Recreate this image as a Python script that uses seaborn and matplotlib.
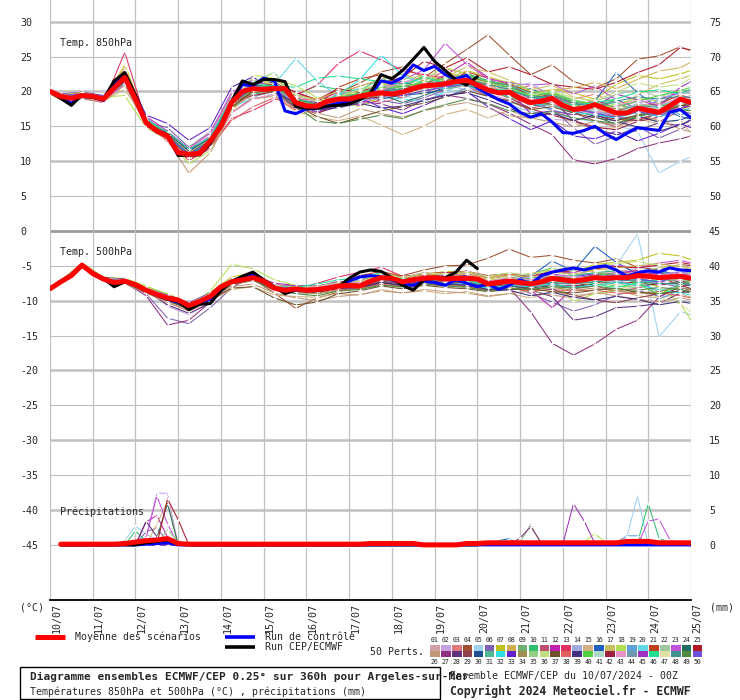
import numpy as np
import pandas as pd
import matplotlib
matplotlib.use('Agg')
import matplotlib.pyplot as plt
import matplotlib.transforms as mtransforms
from matplotlib.patches import Rectangle
import seaborn as sns

sns.set_style('white')
plt.rcParams['font.family'] = ['DejaVu Sans Mono']
plt.rcParams['axes.unicode_minus'] = False

# ── Time axes ──────────────────────────────────────────
day_labels = ['10/07', '11/07', '12/07', '13/07', '14/07', '15/07', '16/07', '17/07',
              '18/07', '19/07', '20/07', '21/07', '22/07', '23/07', '24/07', '25/07']
day_hours = list(range(0, 361, 24))
hours_6h = list(range(0, 361, 6))          # mean / control
cep_hours = list(range(0, 241, 6))         # deterministic run stops at 240h
precip_hours = list(range(6, 361, 6))      # accumulations start at +6h
member_hours = [0, 6, 18, 30, 42, 54, 66, 78, 90, 102, 114, 126, 138, 150, 162, 174,
                186, 198, 210, 222, 234, 246, 258, 270, 282, 294, 306, 318, 330, 342, 354, 360]

# ── Member colours (01..50) ────────────────────────────
member_colors = [
    '#d4a0a8', '#c8a0e0', '#e07880', '#a05030', '#a0d0f0', '#8060b0', '#c0c020', '#d0b050',
    '#70b070', '#30c070', '#c05070', '#c020b0', '#e03060', '#a0a8e0', '#d0b080', '#2060c0',
    '#c8c060', '#b0e050', '#60a0d8', '#60d8e8', '#c04020', '#a0c8a0', '#c050d8', '#207060',
    '#b01828',
    '#c09878', '#903080', '#603080', '#904050', '#205090', '#50b890', '#30e0e0', '#6020d0',
    '#a09050', '#90d080', '#c0e080', '#705028', '#e06060', '#403080', '#50d040', '#b0d8c8',
    '#a02040', '#e890c8', '#7098b0', '#a030c0', '#20e090', '#e0e0a0', '#409090', '#508840',
    '#7050e0']

member_ids = ['01', '02', '03', '04', '05', '06', '07', '09', '10', '11', '12', '13', '15',
              '16', '18', '19', '20', '21', '23', '24', '25', '27', '28', '30', '33', '35',
              '38', '42', '44', '45', '47',
              '08', '14', '17', '22', '26', '29', '31', '32', '34', '36', '37', '39', '40',
              '41', '43', '46', '48', '49', '50']

# ── Temp. 850hPa, members (12h) ────────────────────────
t850_members = [
    [20.2, 19.5, 19.8, 18.7, 22.5, 15.2, 13.9, 10.6, 12.5, 17.9, 21.0, 20.8, 19.3, 18.5, 19.5, 20.8, 21.5, 20.3, 21.0, 22.4, 21.8, 20.3, 20.5, 19.0, 19.8, 18.2, 17.0, 16.2, 17.9, 18.5, 19.3, 19.0],
    [19.8, 19.0, 19.2, 19.1, 21.7, 15.8, 13.4, 11.3, 13.5, 19.2, 20.6, 19.9, 17.6, 17.0, 18.1, 18.8, 19.4, 21.2, 22.5, 21.0, 20.2, 19.6, 18.8, 17.2, 16.0, 15.8, 16.5, 17.8, 18.5, 17.1, 19.6, 20.0],
    [20.3, 19.6, 19.1, 18.5, 23.4, 16.1, 14.0, 10.8, 12.2, 17.4, 19.7, 20.2, 18.9, 18.8, 20.1, 19.0, 18.4, 19.2, 20.8, 23.2, 22.6, 21.0, 20.2, 20.8, 19.5, 18.9, 19.6, 18.3, 17.0, 16.4, 18.0, 17.5],
    [20.1, 19.2, 19.6, 19.0, 22.8, 15.0, 13.2, 10.4, 12.7, 18.8, 20.9, 21.3, 19.2, 17.6, 19.8, 21.2, 22.8, 23.5, 22.0, 24.0, 26.0, 28.1, 25.2, 22.4, 23.8, 21.4, 20.5, 21.8, 24.6, 25.1, 26.4, 25.8],
    [19.9, 19.4, 19.5, 18.8, 21.3, 15.3, 13.8, 11.5, 13.4, 18.0, 20.0, 19.5, 17.9, 18.3, 19.0, 18.5, 20.2, 19.5, 18.6, 19.8, 20.4, 19.4, 18.0, 17.1, 16.8, 16.2, 15.6, 15.1, 14.3, 8.3, 10.0, 10.6],
    [20.0, 19.2, 19.3, 19.2, 21.9, 15.6, 14.8, 12.0, 14.2, 19.5, 21.8, 20.5, 17.3, 17.8, 18.4, 19.6, 18.7, 18.2, 19.1, 20.2, 22.0, 20.8, 21.5, 18.3, 17.5, 14.8, 12.4, 13.6, 15.0, 13.3, 14.6, 15.2],
    [20.3, 19.6, 19.8, 18.6, 23.8, 16.0, 13.5, 10.2, 12.1, 17.2, 20.5, 21.8, 19.6, 18.9, 18.0, 19.4, 21.0, 20.8, 22.3, 21.6, 23.0, 22.1, 21.2, 19.6, 20.3, 19.8, 18.9, 21.0, 22.3, 21.8, 22.5, 23.0],
    [19.7, 19.1, 18.9, 18.8, 21.2, 15.4, 13.1, 10.9, 12.6, 18.1, 20.2, 21.4, 18.0, 17.2, 18.5, 19.9, 20.6, 19.9, 21.6, 20.5, 21.0, 19.8, 20.4, 19.2, 18.1, 17.0, 17.8, 16.5, 17.2, 18.3, 17.8, 18.2],
    [20.0, 19.3, 19.7, 19.3, 22.1, 15.9, 13.7, 11.2, 13.0, 18.6, 19.6, 20.0, 19.5, 20.8, 20.3, 20.1, 21.9, 20.5, 22.2, 21.4, 22.6, 21.5, 20.9, 20.3, 19.4, 18.5, 18.0, 18.8, 17.6, 18.0, 20.2, 19.7],
    [20.4, 19.5, 19.0, 18.4, 22.9, 15.1, 13.3, 10.3, 12.0, 16.9, 19.2, 20.1, 18.6, 17.5, 19.2, 18.0, 18.8, 20.4, 19.6, 21.7, 20.8, 19.2, 18.7, 17.6, 18.2, 16.9, 15.8, 14.9, 16.4, 15.6, 17.3, 16.8],
    [19.8, 19.2, 19.5, 19.0, 21.5, 16.4, 14.3, 11.6, 13.6, 19.0, 21.3, 20.9, 19.8, 18.6, 19.9, 18.9, 19.3, 21.1, 20.9, 22.3, 24.2, 22.0, 19.8, 18.9, 19.5, 17.9, 18.7, 17.7, 16.8, 18.9, 19.8, 20.3],
    [20.1, 19.4, 19.8, 18.3, 25.6, 15.7, 12.8, 10.1, 11.8, 16.1, 17.3, 18.8, 19.5, 20.9, 24.0, 25.8, 24.5, 23.0, 22.4, 21.9, 20.6, 21.4, 20.0, 19.3, 18.0, 17.5, 17.9, 16.3, 15.9, 16.9, 17.6, 18.1],
    [19.6, 18.9, 19.1, 18.6, 20.3, 15.6, 14.0, 11.9, 14.1, 19.4, 18.9, 19.3, 17.1, 16.3, 15.8, 16.5, 15.2, 13.8, 15.0, 16.7, 17.4, 16.2, 17.3, 16.0, 17.0, 15.5, 14.6, 14.8, 16.1, 15.3, 15.9, 14.0],
    [20.0, 19.5, 19.3, 18.9, 22.2, 15.2, 13.6, 11.1, 12.8, 18.3, 20.3, 20.6, 18.2, 17.3, 19.4, 20.3, 20.0, 21.5, 20.0, 22.0, 21.3, 20.4, 19.1, 20.4, 19.0, 17.2, 18.6, 22.7, 19.8, 17.6, 16.4, 16.0],
    [19.9, 19.3, 19.6, 19.2, 19.4, 14.8, 13.1, 9.6, 11.5, 17.8, 22.3, 21.9, 20.8, 19.1, 18.5, 17.8, 19.2, 20.1, 21.8, 23.4, 22.5, 20.9, 21.5, 20.0, 19.7, 18.1, 17.5, 18.2, 19.0, 18.6, 17.8, 17.2],
    [20.2, 19.0, 19.4, 18.9, 22.4, 16.2, 13.9, 11.0, 13.2, 18.5, 21.1, 20.2, 18.7, 18.0, 17.6, 18.4, 19.7, 19.0, 20.3, 19.1, 20.5, 21.3, 20.1, 18.4, 17.3, 16.7, 17.7, 16.9, 17.1, 18.8, 16.6, 17.0],
    [19.9, 19.2, 19.3, 18.8, 21.8, 15.4, 13.5, 11.4, 13.3, 17.8, 19.0, 21.0, 24.7, 21.5, 19.3, 20.5, 19.1, 18.9, 18.5, 20.0, 21.2, 19.4, 18.2, 19.1, 18.6, 17.7, 17.0, 16.6, 18.0, 17.9, 18.9, 19.3],
    [20.2, 19.4, 19.7, 19.0, 22.6, 15.8, 13.4, 10.7, 12.4, 18.2, 20.7, 20.1, 18.1, 17.9, 20.6, 21.8, 22.4, 21.0, 20.1, 21.0, 22.8, 21.9, 21.0, 19.9, 19.2, 18.4, 16.8, 17.3, 17.8, 18.2, 19.5, 19.0],
    [19.7, 19.1, 19.5, 18.7, 21.0, 15.3, 14.3, 11.8, 14.0, 19.9, 21.5, 19.7, 18.5, 18.2, 19.1, 17.9, 20.5, 21.6, 23.1, 26.9, 23.9, 21.8, 21.2, 20.9, 21.1, 19.6, 20.8, 18.8, 17.5, 16.8, 19.1, 18.7],
    [20.0, 19.4, 19.3, 19.1, 22.0, 15.6, 13.3, 10.9, 12.9, 18.4, 20.0, 20.7, 19.0, 17.4, 18.7, 19.2, 19.6, 18.4, 19.4, 20.6, 20.9, 19.6, 19.9, 17.9, 18.4, 17.3, 16.4, 15.3, 16.3, 17.8, 18.6, 18.9],
    [20.1, 19.5, 19.4, 18.6, 23.0, 15.5, 13.1, 10.5, 12.3, 17.6, 20.1, 21.2, 19.9, 18.8, 20.4, 19.8, 21.2, 22.0, 24.3, 23.4, 24.8, 22.8, 23.5, 22.4, 21.0, 20.6, 20.3, 21.3, 22.7, 23.8, 26.3, 25.9],
    [19.8, 19.0, 19.2, 18.9, 21.4, 15.0, 13.8, 11.3, 13.1, 18.7, 20.8, 19.8, 17.7, 16.9, 17.8, 18.6, 18.2, 17.3, 18.8, 19.5, 19.0, 18.2, 16.9, 15.3, 13.8, 10.2, 9.6, 10.4, 11.8, 12.6, 13.2, 13.6],
    [20.2, 19.3, 19.6, 18.8, 22.3, 15.9, 13.9, 10.9, 12.9, 18.2, 20.0, 21.5, 18.8, 18.4, 18.2, 19.6, 20.1, 20.8, 20.7, 21.2, 22.3, 20.4, 19.4, 18.1, 18.8, 15.8, 14.6, 13.8, 14.4, 15.5, 15.1, 16.0],
    [19.9, 19.2, 19.0, 19.1, 21.6, 15.4, 13.6, 11.2, 12.9, 18.9, 20.9, 20.6, 18.3, 17.7, 19.0, 19.3, 18.9, 19.5, 19.7, 20.3, 21.0, 20.0, 19.6, 18.8, 19.1, 17.4, 16.9, 16.0, 16.5, 15.6, 15.9, 16.5],
    [20.0, 19.6, 19.9, 19.4, 22.8, 16.6, 15.4, 13.0, 14.8, 20.6, 22.1, 20.0, 18.0, 17.1, 18.3, 19.1, 17.7, 16.8, 18.0, 19.3, 20.0, 17.8, 16.1, 14.5, 15.8, 13.6, 13.2, 14.3, 12.9, 14.0, 15.4, 14.8],
    [20.1, 19.5, 19.4, 18.9, 22.2, 15.6, 13.5, 11.0, 12.6, 18.0, 21.4, 22.7, 18.9, 18.1, 19.6, 20.2, 20.9, 20.4, 19.8, 21.5, 22.0, 21.0, 20.7, 19.7, 19.9, 18.8, 18.2, 17.4, 18.1, 17.9, 18.7, 18.3],
    [20.3, 19.2, 19.5, 18.9, 22.9, 15.4, 13.0, 10.6, 12.1, 15.8, 17.8, 19.1, 17.4, 17.6, 18.8, 19.5, 20.0, 19.1, 21.0, 21.3, 21.7, 20.2, 19.3, 18.0, 19.5, 18.0, 17.4, 16.3, 17.6, 17.0, 19.1, 18.7],
    [19.8, 19.1, 19.3, 18.7, 21.8, 15.3, 13.4, 10.8, 12.8, 18.5, 19.4, 20.0, 17.8, 16.8, 18.3, 18.9, 19.2, 19.8, 20.4, 20.9, 21.6, 20.8, 19.1, 17.5, 16.6, 15.8, 14.9, 14.5, 15.7, 16.3, 17.5, 18.0],
    [20.0, 19.3, 19.4, 18.8, 22.0, 15.7, 13.8, 11.1, 13.0, 18.6, 20.5, 20.4, 18.5, 17.9, 19.1, 19.4, 20.3, 20.0, 20.5, 21.1, 21.9, 20.9, 20.6, 19.5, 18.9, 18.4, 17.6, 17.1, 17.9, 17.7, 18.0, 18.6],
    [19.9, 19.4, 19.6, 19.0, 22.1, 15.5, 13.7, 11.0, 12.9, 18.4, 20.6, 20.3, 18.4, 17.8, 18.6, 19.0, 19.5, 20.2, 20.0, 20.7, 21.2, 20.5, 20.1, 16.8, 17.2, 16.6, 17.8, 19.6, 18.8, 17.9, 20.6, 21.4],
    [20.0, 19.2, 19.5, 18.9, 22.1, 15.4, 13.5, 10.9, 12.9, 18.3, 20.3, 20.5, 18.6, 18.0, 19.0, 19.4, 19.8, 19.7, 20.2, 21.0, 21.5, 20.7, 20.1, 18.6, 18.9, 17.7, 17.2, 17.0, 17.5, 17.4, 18.7, 18.2],
    [20.1, 19.4, 19.6, 18.8, 22.7, 15.5, 13.3, 10.7, 12.6, 18.1, 20.3, 21.0, 19.4, 18.9, 20.0, 20.7, 21.8, 22.5, 21.5, 22.9, 21.8, 21.0, 19.5, 18.9, 20.2, 20.5, 21.3, 20.4, 21.7, 22.9, 23.4, 24.2],
    [19.8, 19.2, 19.3, 19.0, 21.6, 15.8, 14.1, 11.6, 13.6, 19.1, 21.2, 20.6, 18.3, 17.5, 17.9, 18.7, 19.0, 19.9, 20.8, 21.4, 20.7, 19.9, 20.6, 21.2, 19.3, 17.8, 17.1, 16.7, 18.3, 19.1, 19.6, 19.9],
    [20.2, 19.5, 19.9, 19.1, 23.1, 15.9, 13.7, 10.8, 12.7, 18.3, 20.1, 20.4, 18.7, 18.1, 19.3, 20.0, 20.3, 21.0, 20.6, 22.0, 23.5, 22.8, 21.6, 20.2, 20.9, 19.2, 18.5, 17.6, 19.5, 21.0, 21.8, 22.3],
    [19.9, 19.3, 19.4, 18.8, 21.9, 15.4, 13.6, 11.0, 12.9, 18.5, 20.4, 20.2, 18.6, 17.8, 18.8, 19.5, 20.4, 20.9, 21.1, 20.3, 21.0, 20.4, 19.7, 18.7, 18.4, 17.9, 18.6, 19.5, 20.3, 19.2, 20.1, 19.6],
    [19.6, 18.8, 18.9, 18.5, 20.9, 15.1, 13.0, 8.3, 11.2, 17.0, 19.0, 19.4, 17.6, 16.9, 16.2, 17.5, 16.8, 16.3, 17.2, 17.9, 18.4, 17.6, 16.5, 16.2, 15.6, 14.9, 15.7, 15.2, 16.8, 15.8, 14.6, 14.2],
    [20.1, 19.4, 19.5, 18.9, 22.3, 15.6, 13.5, 10.8, 12.7, 18.2, 20.4, 20.6, 18.7, 17.9, 18.7, 19.3, 20.1, 19.6, 20.6, 21.5, 22.1, 21.3, 20.9, 19.4, 19.1, 17.8, 16.6, 16.0, 15.8, 16.9, 17.9, 18.4],
    [20.0, 19.3, 19.5, 19.0, 22.0, 15.7, 13.8, 11.3, 13.2, 18.7, 20.7, 20.4, 18.5, 17.6, 18.9, 19.8, 20.6, 20.2, 20.9, 21.8, 22.4, 21.6, 20.8, 19.8, 19.5, 18.6, 18.0, 18.4, 17.2, 17.6, 18.2, 18.8],
    [19.9, 19.2, 19.4, 18.9, 21.8, 15.5, 13.6, 11.1, 13.0, 18.5, 20.6, 20.9, 18.9, 18.2, 19.5, 21.7, 25.2, 22.3, 21.1, 20.4, 21.6, 20.0, 19.2, 18.2, 18.0, 17.0, 16.7, 16.2, 17.0, 16.4, 17.2, 17.6],
    [20.1, 19.3, 19.6, 18.8, 22.4, 15.3, 13.2, 10.4, 12.3, 17.7, 19.8, 20.0, 18.2, 17.4, 18.6, 19.0, 19.4, 20.3, 21.2, 20.9, 21.5, 20.2, 19.0, 18.4, 18.1, 17.3, 17.9, 17.5, 16.9, 17.3, 18.2, 17.7],
    [20.0, 19.5, 19.6, 19.2, 22.6, 15.8, 13.9, 11.2, 13.1, 18.6, 20.9, 21.2, 19.6, 18.6, 19.2, 20.3, 21.0, 21.7, 22.3, 21.4, 22.0, 21.2, 20.3, 19.5, 20.0, 19.1, 18.7, 19.9, 21.2, 20.6, 21.0, 21.9],
    [20.2, 19.4, 19.3, 18.7, 22.1, 15.2, 13.4, 10.6, 12.4, 17.8, 20.0, 20.3, 18.0, 16.4, 15.4, 16.3, 17.2, 17.8, 18.3, 19.2, 20.1, 19.3, 18.6, 17.4, 17.8, 16.9, 16.2, 15.8, 16.6, 17.2, 17.9, 18.1],
    [19.8, 19.1, 19.2, 18.9, 21.5, 15.6, 14.0, 11.5, 13.3, 18.8, 20.6, 20.0, 18.1, 17.3, 17.7, 18.3, 17.6, 17.9, 18.7, 19.4, 19.8, 18.8, 17.6, 16.3, 16.9, 15.8, 16.6, 15.7, 14.9, 14.3, 15.2, 15.8],
    [20.0, 19.4, 19.5, 19.0, 22.2, 15.7, 13.8, 11.0, 13.0, 18.5, 20.4, 20.7, 18.8, 18.0, 19.2, 19.7, 20.5, 20.7, 21.3, 21.9, 22.3, 21.4, 20.6, 19.3, 19.8, 18.6, 18.2, 17.8, 18.6, 19.4, 20.1, 20.6],
    [20.0, 19.3, 19.4, 18.9, 22.0, 15.5, 13.6, 11.0, 12.9, 18.4, 20.3, 20.4, 18.4, 17.8, 18.8, 19.2, 19.8, 19.9, 20.4, 21.0, 21.4, 20.6, 20.0, 18.8, 18.6, 17.9, 17.4, 17.0, 17.8, 17.5, 18.4, 18.6],
    [20.2, 19.5, 19.6, 18.8, 22.8, 15.3, 13.2, 10.5, 12.2, 16.9, 18.9, 19.6, 18.1, 17.6, 18.4, 19.4, 20.2, 21.3, 21.9, 22.8, 21.2, 20.7, 19.8, 19.0, 18.3, 17.3, 16.8, 17.9, 18.8, 18.1, 19.0, 19.4],
    [19.9, 19.2, 19.4, 19.1, 21.7, 15.9, 14.2, 11.7, 13.4, 18.9, 21.0, 20.8, 20.6, 21.9, 22.2, 21.8, 21.4, 21.0, 22.0, 21.2, 20.9, 20.4, 20.1, 19.3, 18.9, 18.0, 18.4, 18.9, 19.9, 20.2, 19.7, 20.3],
    [20.1, 19.4, 19.5, 18.8, 22.2, 15.4, 13.5, 10.9, 12.8, 18.3, 20.4, 20.8, 18.9, 18.2, 19.0, 19.6, 20.0, 20.4, 20.6, 21.3, 21.7, 21.0, 20.3, 19.1, 19.4, 18.3, 17.8, 18.6, 19.2, 18.9, 19.3, 19.1],
    [19.9, 19.3, 19.3, 18.9, 21.9, 15.6, 13.7, 11.1, 13.0, 18.6, 20.2, 19.9, 17.9, 15.7, 15.4, 16.0, 16.6, 16.1, 17.3, 18.1, 18.9, 18.3, 17.2, 16.8, 17.1, 16.2, 15.8, 15.4, 16.5, 16.9, 17.4, 17.2],
    [20.0, 19.4, 19.6, 19.0, 22.1, 15.5, 13.6, 11.0, 12.9, 18.4, 20.5, 20.3, 18.3, 17.6, 18.5, 19.1, 19.6, 19.4, 20.1, 20.6, 21.1, 20.3, 19.5, 18.3, 18.7, 17.5, 16.9, 16.3, 17.1, 16.6, 17.6, 18.0],
]

# ── Temp. 500hPa, members (12h) ────────────────────────
t500_members = [
    [-8.2, -7.2, -4.7, -7.0, -7.4, -8.8, -10.2, -11.4, -9.7, -7.8, -7.0, -8.5, -8.8, -9.0, -8.2, -7.4, -6.2, -7.0, -6.5, -7.2, -6.3, -7.0, -7.9, -8.3, -6.5, -7.8, -6.0, -5.8, -5.5, -6.3, -5.9, -6.4],
    [-8.4, -7.4, -5.1, -6.7, -7.0, -8.2, -10.8, -12.0, -10.1, -7.0, -6.2, -7.6, -8.0, -7.9, -7.3, -8.4, -7.0, -6.6, -6.0, -6.8, -7.5, -8.2, -6.9, -7.1, -6.3, -6.6, -5.4, -5.0, -5.8, -6.8, -7.2, -7.5],
    [-8.3, -7.2, -4.8, -6.8, -7.1, -8.4, -9.3, -10.5, -9.0, -7.1, -6.8, -8.0, -8.7, -8.2, -8.5, -7.7, -6.8, -7.6, -7.1, -6.4, -6.6, -7.3, -8.0, -7.4, -7.7, -7.0, -6.5, -6.9, -7.1, -6.0, -6.6, -7.0],
    [-8.2, -7.3, -4.9, -7.1, -7.3, -8.6, -9.4, -10.8, -9.6, -7.6, -6.9, -8.9, -11.1, -9.6, -8.8, -7.5, -6.9, -6.4, -5.6, -5.0, -4.9, -3.9, -2.6, -3.8, -3.5, -4.2, -4.6, -4.0, -5.2, -5.6, -4.8, -5.0],
    [-8.3, -7.3, -5.0, -6.9, -7.2, -8.6, -9.8, -10.6, -9.3, -7.5, -6.5, -7.9, -8.0, -8.6, -8.1, -7.8, -7.2, -7.5, -7.0, -7.4, -6.9, -8.1, -7.6, -7.0, -8.3, -7.5, -6.8, -5.0, -0.4, -15.2, -11.6, -12.0],
    [-8.3, -7.4, -5.0, -6.9, -7.5, -9.0, -12.5, -13.3, -11.0, -8.2, -6.4, -7.7, -8.5, -8.4, -7.5, -7.8, -7.0, -7.7, -6.8, -6.5, -7.3, -8.0, -7.6, -9.0, -10.2, -11.5, -10.6, -9.2, -8.5, -9.4, -8.0, -7.6],
    [-8.2, -7.1, -4.6, -6.6, -6.9, -8.0, -9.0, -10.4, -8.8, -6.6, -6.0, -7.9, -8.1, -8.0, -7.4, -7.0, -6.0, -6.6, -6.3, -5.8, -5.9, -6.6, -6.2, -6.8, -5.5, -5.9, -4.8, -4.5, -4.2, -3.2, -3.6, -4.1],
    [-8.4, -7.4, -5.0, -7.0, -7.3, -8.7, -9.9, -11.0, -9.6, -7.4, -6.9, -8.3, -8.6, -8.9, -8.3, -8.0, -7.3, -7.9, -7.5, -7.2, -7.4, -7.9, -8.3, -8.0, -7.1, -7.6, -7.3, -7.9, -8.1, -6.5, -7.4, -7.2],
    [-8.3, -7.2, -4.9, -6.8, -7.1, -8.3, -9.5, -10.6, -9.2, -7.1, -6.5, -8.0, -8.2, -8.1, -7.6, -7.7, -6.4, -7.2, -6.6, -6.8, -6.4, -7.3, -6.8, -6.2, -5.3, -6.4, -6.0, -5.7, -6.3, -5.9, -6.2, -6.0],
    [-8.2, -7.2, -4.8, -6.9, -7.2, -8.6, -9.7, -10.9, -9.5, -7.5, -6.9, -8.4, -8.9, -8.7, -8.0, -8.3, -7.5, -7.2, -7.8, -7.5, -7.9, -8.4, -8.1, -8.8, -7.6, -8.3, -7.9, -8.6, -8.2, -7.4, -8.1, -8.4],
    [-8.3, -7.3, -4.7, -6.8, -7.0, -8.3, -9.8, -11.2, -9.8, -7.0, -6.4, -7.5, -7.8, -8.0, -7.2, -7.5, -6.3, -6.9, -6.1, -6.6, -5.7, -6.8, -6.4, -8.5, -11.0, -8.2, -6.9, -6.2, -6.7, -7.5, -6.3, -6.6],
    [-8.3, -7.3, -4.9, -6.8, -7.1, -8.5, -9.4, -10.5, -9.3, -7.7, -7.1, -8.2, -8.4, -7.5, -6.6, -5.9, -5.2, -6.5, -7.4, -7.0, -6.3, -7.4, -7.0, -6.8, -7.3, -6.8, -6.5, -6.9, -6.1, -6.8, -6.4, -6.9],
    [-8.4, -7.5, -5.1, -7.1, -7.5, -8.9, -10.0, -11.3, -10.0, -8.4, -8.0, -9.2, -9.4, -9.5, -9.0, -9.2, -8.4, -8.9, -8.6, -9.0, -8.7, -9.3, -9.0, -9.6, -8.7, -9.2, -9.1, -8.4, -9.3, -9.6, -9.0, -9.5],
    [-8.3, -7.3, -4.9, -6.9, -7.2, -8.4, -9.6, -10.7, -9.4, -7.3, -6.7, -8.2, -8.3, -8.4, -7.9, -7.7, -6.6, -7.3, -6.8, -6.9, -6.7, -7.5, -7.0, -6.5, -4.3, -5.8, -2.2, -4.5, -6.2, -5.4, -6.8, -7.1],
    [-8.2, -7.2, -4.8, -6.7, -6.8, -7.9, -9.1, -10.9, -8.6, -4.8, -5.4, -7.0, -7.8, -8.2, -7.7, -7.3, -6.5, -7.0, -6.4, -6.7, -6.6, -7.1, -6.6, -7.8, -7.0, -10.1, -9.0, -8.6, -7.3, -8.0, -10.4, -12.8],
    [-8.3, -7.3, -4.9, -7.0, -7.4, -8.7, -9.6, -10.9, -9.6, -7.6, -6.8, -8.3, -8.5, -8.6, -8.1, -8.0, -7.0, -7.4, -6.9, -7.0, -7.2, -7.9, -7.5, -7.9, -7.4, -6.9, -7.2, -6.4, -5.8, -9.8, -8.4, -8.0],
    [-8.3, -7.3, -4.9, -6.9, -7.2, -8.5, -9.7, -10.8, -9.4, -7.2, -6.6, -8.1, -8.3, -8.6, -8.2, -7.9, -6.8, -7.4, -6.6, -7.1, -7.0, -7.7, -7.3, -7.7, -6.9, -7.5, -7.0, -7.2, -6.8, -7.6, -7.8, -8.3],
    [-8.2, -7.2, -4.8, -6.8, -7.0, -8.4, -9.5, -10.7, -9.3, -7.3, -6.7, -8.0, -8.2, -8.1, -7.6, -6.4, -5.8, -6.5, -6.3, -6.7, -6.6, -7.4, -7.2, -7.4, -7.5, -7.2, -6.9, -6.1, -5.8, -6.7, -7.7, -8.3],
    [-8.3, -7.2, -4.8, -6.8, -7.1, -8.3, -9.4, -10.6, -9.3, -7.2, -6.5, -8.0, -8.1, -7.9, -7.6, -7.1, -6.3, -6.7, -6.0, -6.4, -6.1, -6.8, -6.3, -6.6, -5.8, -6.0, -5.2, -4.9, -5.3, -4.6, -4.2, -4.6],
    [-8.4, -7.4, -5.0, -7.0, -7.3, -8.6, -9.8, -11.0, -9.7, -7.6, -7.0, -8.4, -8.6, -8.7, -8.2, -8.1, -7.4, -7.8, -7.4, -7.5, -7.7, -8.3, -7.9, -8.2, -7.8, -8.0, -7.6, -7.3, -7.8, -7.5, -7.6, -7.9],
    [-8.3, -7.3, -4.9, -6.9, -7.1, -8.4, -9.5, -10.7, -9.3, -7.2, -6.6, -8.0, -8.2, -8.1, -7.5, -7.3, -6.2, -6.9, -6.1, -6.0, -5.8, -6.4, -6.1, -6.4, -5.9, -5.8, -5.4, -5.1, -5.3, -4.9, -4.5, -4.8],
    [-8.3, -7.4, -5.0, -7.0, -7.4, -9.3, -13.5, -12.8, -10.2, -7.6, -6.8, -8.3, -8.6, -8.8, -8.3, -8.2, -7.4, -7.9, -7.4, -7.3, -7.8, -8.6, -8.2, -11.6, -16.1, -17.8, -16.2, -14.1, -12.8, -9.5, -8.0, -7.6],
    [-8.3, -7.3, -4.8, -6.9, -7.2, -8.6, -10.6, -11.8, -10.4, -7.3, -6.7, -8.2, -8.4, -8.3, -7.9, -7.8, -6.9, -7.5, -7.0, -7.1, -7.0, -7.9, -7.6, -8.5, -9.4, -12.8, -12.3, -11.0, -10.8, -10.4, -8.9, -8.6],
    [-8.3, -7.3, -4.9, -6.9, -7.2, -8.5, -9.6, -10.8, -9.5, -7.4, -6.7, -8.1, -8.3, -8.4, -8.0, -7.9, -7.0, -7.5, -7.1, -7.0, -7.1, -7.7, -7.4, -7.6, -7.5, -7.3, -7.1, -6.9, -7.0, -7.2, -6.9, -7.3],
    [-8.2, -7.2, -4.8, -6.7, -6.9, -8.2, -9.2, -10.3, -8.9, -6.9, -6.3, -7.8, -7.9, -7.9, -7.4, -7.5, -6.5, -7.0, -6.6, -6.4, -6.4, -7.2, -6.9, -7.2, -6.2, -6.6, -6.1, -6.4, -6.0, -6.2, -5.9, -6.1],
    [-8.3, -7.3, -4.9, -6.9, -7.2, -8.4, -9.6, -10.7, -9.4, -7.3, -6.8, -8.2, -8.4, -8.5, -8.0, -7.8, -6.9, -7.4, -6.9, -7.3, -7.1, -7.9, -7.5, -7.8, -7.2, -7.4, -7.0, -6.7, -6.4, -6.9, -7.0, -7.2],
    [-8.4, -7.4, -5.0, -7.0, -7.3, -8.6, -9.8, -11.0, -9.6, -7.5, -6.9, -8.3, -8.6, -8.8, -8.4, -8.3, -7.6, -8.0, -7.6, -7.8, -7.9, -8.5, -8.2, -8.6, -8.4, -8.6, -8.5, -8.9, -9.0, -8.8, -9.3, -9.6],
    [-8.3, -7.3, -4.9, -6.9, -7.2, -8.5, -9.7, -10.9, -9.5, -7.4, -6.8, -8.2, -8.4, -8.6, -8.1, -8.0, -7.1, -7.6, -7.1, -7.3, -7.4, -8.1, -7.8, -8.0, -7.7, -7.9, -7.4, -7.6, -7.3, -7.8, -7.2, -7.5],
    [-8.3, -7.3, -4.9, -6.9, -7.2, -8.5, -9.6, -10.8, -9.4, -7.3, -6.7, -8.1, -8.2, -8.3, -7.8, -7.8, -6.8, -7.4, -6.8, -7.0, -6.8, -7.6, -7.2, -7.4, -6.6, -7.0, -6.7, -6.5, -7.4, -8.7, -7.7, -7.4],
    [-8.2, -7.2, -4.8, -6.8, -7.1, -8.4, -9.4, -10.6, -9.2, -7.2, -6.6, -8.0, -8.1, -8.2, -7.7, -7.6, -6.6, -7.1, -6.4, -6.7, -6.5, -7.3, -7.0, -7.3, -6.4, -6.8, -6.3, -6.0, -5.7, -6.2, -6.1, -6.4],
    [-8.3, -7.3, -4.9, -6.9, -7.2, -8.5, -9.7, -10.9, -9.5, -7.4, -6.8, -8.2, -8.4, -8.5, -8.0, -7.9, -7.1, -7.4, -7.0, -7.1, -7.0, -7.8, -7.4, -7.8, -7.3, -7.6, -7.5, -7.7, -8.8, -9.5, -10.5, -11.6],
    [-8.3, -7.3, -4.9, -6.9, -7.1, -8.4, -9.5, -10.7, -9.3, -7.2, -6.6, -8.0, -8.2, -8.2, -7.7, -7.4, -6.5, -7.0, -6.5, -6.6, -6.2, -6.9, -6.3, -6.7, -5.9, -6.2, -5.6, -5.3, -5.0, -4.7, -5.2, -5.5],
    [-8.3, -7.3, -4.9, -6.9, -7.3, -8.6, -9.7, -10.9, -9.6, -7.5, -6.8, -8.2, -8.4, -8.5, -8.0, -7.9, -7.0, -7.5, -7.2, -7.3, -7.1, -7.8, -7.1, -6.6, -7.0, -6.5, -6.9, -7.4, -6.8, -6.3, -5.8, -6.2],
    [-8.2, -7.2, -4.8, -6.8, -7.0, -8.3, -9.4, -10.6, -9.2, -7.1, -6.5, -7.9, -8.1, -8.0, -7.5, -7.2, -6.4, -6.8, -6.2, -6.3, -6.0, -6.7, -6.5, -6.1, -5.6, -5.2, -5.9, -6.4, -6.0, -5.3, -4.9, -5.4],
    [-8.3, -7.3, -4.9, -6.9, -7.2, -8.5, -9.6, -10.8, -9.4, -7.3, -6.7, -8.1, -8.3, -8.4, -8.0, -7.8, -6.9, -7.3, -6.9, -7.2, -7.3, -7.9, -7.6, -7.4, -7.8, -7.2, -7.0, -7.5, -7.9, -7.2, -6.9, -7.3],
    [-8.4, -7.5, -5.2, -7.2, -7.6, -8.9, -10.3, -11.5, -10.1, -8.0, -7.6, -8.9, -9.6, -10.0, -9.4, -9.1, -8.6, -8.9, -8.4, -8.7, -8.9, -9.4, -9.0, -8.6, -9.2, -9.6, -8.8, -9.3, -9.8, -10.2, -9.6, -9.9],
    [-8.3, -7.3, -4.9, -7.0, -7.3, -8.6, -9.8, -10.9, -9.6, -7.5, -6.9, -8.3, -8.5, -8.6, -8.1, -8.0, -7.2, -7.6, -7.2, -7.3, -7.5, -8.0, -7.7, -8.1, -8.4, -9.2, -9.9, -10.3, -9.6, -9.0, -8.6, -8.4],
    [-8.3, -7.3, -4.9, -6.9, -7.2, -8.4, -9.6, -10.7, -9.4, -7.3, -6.7, -8.1, -8.2, -8.3, -7.8, -7.7, -6.8, -7.3, -6.8, -7.0, -6.9, -7.5, -7.1, -7.3, -6.7, -6.4, -6.0, -6.5, -7.0, -6.6, -6.8, -7.1],
    [-8.3, -7.3, -4.9, -6.9, -7.2, -8.5, -9.6, -10.8, -9.4, -7.3, -6.7, -8.1, -8.2, -8.3, -7.7, -6.9, -5.9, -7.0, -7.4, -7.6, -7.6, -8.2, -7.8, -8.0, -7.6, -8.1, -7.8, -7.4, -7.7, -8.4, -8.9, -9.2],
    [-8.4, -7.4, -5.0, -7.0, -7.3, -8.6, -9.8, -11.0, -9.7, -7.7, -7.1, -8.5, -8.8, -9.0, -8.6, -8.3, -7.7, -8.1, -7.7, -7.8, -8.0, -8.6, -8.3, -8.4, -8.1, -8.5, -8.2, -8.6, -8.9, -8.7, -8.1, -8.5],
    [-8.2, -7.2, -4.8, -6.8, -7.0, -8.2, -9.3, -10.4, -9.0, -6.9, -6.3, -7.8, -8.0, -7.9, -7.4, -7.3, -6.2, -6.7, -6.0, -6.2, -5.8, -6.5, -6.0, -6.4, -5.4, -5.8, -5.0, -4.7, -4.4, -4.9, -5.6, -6.0],
    [-8.4, -7.4, -5.1, -7.1, -7.4, -8.8, -10.0, -11.2, -9.9, -8.2, -8.0, -9.6, -10.6, -10.2, -9.0, -8.6, -7.9, -8.3, -7.8, -8.1, -8.3, -8.7, -8.4, -8.3, -8.7, -8.9, -8.5, -8.2, -8.8, -9.0, -8.6, -8.9],
    [-8.3, -7.4, -5.0, -7.0, -7.3, -8.7, -9.9, -11.1, -9.7, -7.6, -7.0, -8.4, -8.6, -8.7, -8.2, -8.1, -7.4, -7.8, -7.4, -7.6, -7.8, -8.4, -8.5, -9.3, -8.8, -9.5, -9.9, -9.4, -9.8, -10.6, -10.1, -10.4],
    [-8.3, -7.3, -4.9, -6.9, -7.2, -8.4, -9.5, -10.7, -9.3, -7.2, -6.6, -8.0, -8.1, -8.2, -7.7, -7.5, -6.6, -7.1, -6.6, -6.8, -6.7, -7.4, -7.0, -6.8, -6.5, -6.9, -6.4, -6.1, -7.6, -9.1, -7.8, -7.2],
    [-8.3, -7.3, -4.9, -6.9, -7.2, -8.5, -9.6, -10.8, -9.4, -7.3, -6.7, -8.1, -8.3, -8.4, -7.9, -7.8, -6.9, -7.4, -6.9, -7.1, -7.0, -7.7, -7.3, -7.5, -7.2, -7.1, -7.3, -6.8, -6.6, -7.0, -6.7, -6.9],
    [-8.2, -7.2, -4.8, -6.8, -7.1, -8.4, -9.5, -10.6, -9.3, -7.2, -6.6, -8.0, -8.1, -8.0, -7.6, -7.4, -6.6, -7.0, -6.5, -6.7, -6.8, -7.2, -6.7, -7.0, -6.3, -6.6, -6.8, -6.2, -5.9, -6.4, -6.0, -6.3],
    [-8.3, -7.3, -4.9, -6.9, -7.2, -8.5, -9.6, -10.8, -9.4, -7.3, -6.7, -8.0, -8.1, -7.6, -7.0, -6.8, -6.3, -6.9, -6.7, -7.0, -7.2, -7.6, -7.3, -7.2, -7.0, -6.9, -7.6, -8.1, -7.5, -7.0, -6.5, -6.8],
    [-8.3, -7.3, -4.9, -6.9, -7.2, -8.5, -9.7, -10.9, -9.5, -7.4, -6.8, -8.2, -8.4, -8.5, -8.0, -7.9, -7.0, -7.5, -7.0, -7.2, -7.3, -7.9, -7.5, -7.7, -7.4, -7.6, -7.3, -7.0, -7.2, -7.6, -7.4, -7.7],
    [-8.4, -7.4, -5.0, -7.0, -7.3, -8.7, -9.8, -11.0, -9.7, -7.6, -7.0, -8.5, -9.0, -9.3, -8.6, -8.4, -7.8, -8.0, -7.6, -7.9, -8.1, -8.6, -8.2, -8.4, -8.0, -8.2, -7.9, -8.3, -8.5, -8.1, -8.4, -8.7],
    [-8.3, -7.3, -4.9, -6.9, -7.2, -8.4, -9.5, -10.8, -9.4, -7.3, -6.7, -8.1, -8.2, -8.3, -7.8, -7.7, -6.8, -7.3, -6.8, -7.0, -6.9, -7.5, -7.2, -7.4, -7.1, -7.3, -6.6, -6.3, -6.9, -7.3, -6.4, -6.7],
]

# ── Mean / control / CEP (6h) ──────────────────────────
t850_mean = [20.0, 19.3, 19.0, 19.4, 19.3, 18.9, 20.5, 22.0, 18.9, 15.5, 14.3, 13.6, 11.2, 11.0, 11.1, 12.9,
             15.0, 18.4, 20.0, 20.4, 20.3, 20.4, 20.4, 18.4, 17.9, 17.9, 18.6, 18.9, 18.9, 19.3, 19.6, 19.8,
             19.6, 19.9, 20.4, 20.8, 20.9, 21.1, 21.4, 21.6, 20.9, 20.2, 19.8, 19.9, 19.0, 18.4, 18.6, 19.0,
             18.0, 17.4, 17.6, 18.1, 17.5, 16.9, 16.9, 17.6, 17.3, 17.0, 17.9, 18.9, 18.4]
t850_ctrl = [20.0, 19.1, 18.3, 19.4, 19.2, 18.7, 21.3, 22.4, 19.2, 15.6, 14.2, 13.6, 10.9, 11.0, 11.2, 12.8,
             15.2, 18.6, 21.0, 20.8, 21.9, 21.5, 17.2, 16.8, 17.5, 17.6, 17.9, 18.3, 18.6, 19.2, 19.6, 21.5,
             21.2, 22.0, 23.8, 23.0, 23.6, 22.4, 21.8, 22.3, 20.5, 19.6, 18.8, 18.2, 17.0, 16.3, 16.8, 15.6,
             14.1, 14.0, 14.4, 15.0, 13.9, 13.1, 14.0, 14.8, 14.6, 14.4, 17.0, 17.4, 16.2]
t850_cep = [20.0, 19.0, 18.0, 19.5, 19.3, 18.8, 21.5, 22.7, 19.5, 15.7, 14.3, 13.8, 10.8, 10.9, 10.9, 12.5,
            15.0, 18.5, 21.5, 21.0, 21.7, 21.7, 21.4, 17.8, 17.6, 17.6, 17.9, 18.0, 18.2, 18.8, 19.8, 22.4,
            21.8, 23.0, 24.6, 26.3, 24.3, 23.0, 21.6, 20.9, 22.1]

t500_mean = [-8.3, -7.3, -6.4, -4.9, -6.1, -6.9, -7.4, -7.2, -7.7, -8.5, -9.1, -9.6, -9.9, -10.7, -10.1, -9.4,
             -8.0, -7.3, -7.0, -6.7, -7.2, -8.2, -8.5, -8.3, -8.5, -8.4, -8.2, -7.9, -7.8, -7.9, -7.2, -6.7,
             -6.8, -7.3, -7.0, -6.8, -6.7, -6.9, -6.8, -6.8, -6.9, -7.6, -7.4, -7.2, -7.4, -7.6, -7.3, -6.8,
             -7.0, -7.2, -7.0, -6.7, -6.8, -6.7, -6.7, -6.4, -6.5, -6.7, -6.6, -6.5, -6.8]
t500_ctrl = [-8.3, -7.3, -6.4, -4.9, -6.1, -6.9, -7.7, -7.3, -7.7, -8.6, -9.2, -9.8, -10.2, -11.0, -10.3, -9.8,
             -8.3, -7.2, -6.7, -6.2, -7.1, -8.1, -8.8, -8.5, -8.6, -8.5, -8.2, -7.9, -7.2, -6.6, -6.4, -6.6,
             -7.0, -7.6, -7.8, -7.2, -7.4, -7.8, -7.0, -7.5, -8.0, -7.6, -8.4, -7.8, -7.0, -7.6, -6.4, -5.9,
             -5.6, -5.3, -5.6, -5.2, -5.0, -5.6, -6.5, -6.0, -5.7, -5.9, -5.3, -5.6, -5.7]
t500_cep = [-8.3, -7.3, -6.4, -4.9, -6.2, -6.8, -8.0, -7.3, -7.6, -8.5, -9.1, -9.8, -10.1, -11.3, -10.5, -10.4,
            -8.5, -7.3, -6.5, -5.9, -7.0, -8.0, -9.0, -8.4, -8.5, -8.6, -8.3, -8.0, -6.8, -5.9, -5.6, -5.8,
            -6.7, -7.8, -8.5, -7.0, -6.8, -6.7, -5.9, -4.2, -5.4]

# ── Precipitations (mm / 6h) ───────────────────────────
precip_mean = [0.1, 0.1, 0.1, 0.1, 0.1, 0.1, 0.2, 0.4, 0.6, 0.7,
               0.9, 0.2, 0.1, 0.1, 0.1, 0.1, 0.1, 0.1, 0.1, 0.1,
               0.1, 0.1, 0.1, 0.1, 0.1, 0.1, 0.1, 0.1, 0.1, 0.2,
               0.2, 0.2, 0.2, 0.2, 0.0, 0.0, 0.0, 0.0, 0.2, 0.2,
               0.3, 0.3, 0.3, 0.3, 0.3, 0.3, 0.3, 0.3, 0.3, 0.3,
               0.3, 0.3, 0.3, 0.5, 0.5, 0.5, 0.3, 0.3, 0.3, 0.3]
precip_ctrl = [0, 0, 0, 0, 0, 0, 0, 0, 0.1, 0.2,
               0.3, 0, 0, 0, 0, 0, 0, 0, 0, 0,
               0, 0, 0, 0, 0, 0, 0, 0, 0, 0,
               0, 0, 0, 0, 0, 0, 0, 0, 0, 0,
               0, 0, 0, 0, 0, 0, 0, 0, 0, 0,
               0, 0, 0, 0, 0, 0, 0, 0, 0, 0]
precip_cep = [0, 0, 0, 0, 0, 0, 0, 0, 0.3, 0.5,
              0.7, 0.1, 0, 0, 0, 0, 0, 0, 0, 0,
              0, 0, 0, 0, 0, 0, 0, 0, 0, 0,
              0, 0, 0, 0, 0, 0, 0, 0, 0, 0]

precip_ids = ['02', '05', '06', '09', '10', '12', '15', '16', '18', '19', '23', '24', '25', '27', '28', '35', '45']
precip_members = [
    [0, 0, 0, 0, 0, 0, 0, 0, 1.2, 7.4,  7.4, 0, 0, 0, 0, 0, 0, 0, 0, 0,  0, 0, 0, 0, 0, 0, 0, 0, 0, 0,  0, 0, 0, 0, 0, 0, 0, 0, 0, 0,  0, 0, 0, 0, 0, 0, 0, 0, 0, 0,  0, 0, 0, 0, 0, 0, 0, 0, 0, 0],
    [0, 0, 0, 0, 0, 0, 0.6, 2.7, 1.5, 0.8,  0, 0, 0, 0, 0, 0, 0, 0, 0, 0,  0, 0, 0, 0, 0, 0, 0, 0, 0, 0,  0, 0, 0, 0, 0, 0, 0, 0, 0, 0,  0, 0, 0, 0, 0, 0, 0, 0, 0, 0,  0, 0, 0, 1.2, 7.0, 0, 0, 0, 0, 0],
    [0, 0, 0, 0, 0, 0, 0, 0, 1.9, 2.4,  0.5, 0, 0, 0, 0, 0, 0, 0, 0, 0,  0, 0, 0, 0, 0, 0, 0, 0, 0, 0,  0, 0, 0, 0, 0, 0, 0, 0, 0, 0,  0, 0, 0, 0, 0, 0, 0, 0, 0, 0,  0, 0, 0, 0, 0, 0, 0, 0, 0, 0],
    [0, 0, 0, 0, 0, 0, 0, 0, 0, 0,  0, 0, 0, 0, 0, 0, 0, 0, 0, 0,  0, 0, 0, 0, 0, 0, 0, 0, 0, 0,  0, 0, 0, 0, 0, 0, 0, 0, 0, 0,  0, 0, 0, 0.4, 2.9, 0, 0, 0, 0, 0,  0, 0, 0, 0, 0, 0, 0, 0, 0, 0],
    [0, 0, 0, 0, 0, 0, 0, 2.0, 0.5, 0,  0, 0, 0, 0, 0, 0, 0, 0, 0, 0,  0, 0, 0, 0, 0, 0, 0, 0, 0, 0,  0, 0, 0, 0, 0, 0, 0, 0, 0, 0,  0, 0, 0, 0, 0, 0, 0, 0, 0, 0,  0, 0, 0, 0, 0.3, 5.9, 1.0, 0.3, 0, 0],
    [0, 0, 0, 0, 0, 0, 0, 0, 3.3, 4.2,  1.1, 0, 0, 0, 0, 0, 0, 0, 0, 0,  0, 0, 0, 0, 0, 0, 0, 0, 0, 0,  0, 0, 0, 0, 0, 0, 0, 0, 0, 0,  0, 0, 0, 0, 0, 0, 0, 0, 0, 0,  0, 0, 0, 0, 0, 0, 0, 0, 0, 0],
    [0, 0, 0, 0, 0, 0, 0, 0, 0, 3.0,  6.2, 0, 0, 0, 0, 0, 0, 0, 0, 0,  0, 0, 0, 0, 0, 0, 0, 0, 0, 0,  0, 0, 0, 0, 0, 0, 0, 0, 0, 0,  0, 0, 0, 0, 0, 0, 0, 0, 0, 0,  0, 0, 0, 0, 0, 0, 0, 0, 0, 0],
    [0, 0, 0, 0, 0, 0, 0, 0, 0, 0,  0, 0, 0, 0, 0, 0, 0, 0, 0, 0,  0, 0, 0, 0, 0, 0, 0, 0, 0, 0,  0, 0, 0, 0, 0, 0, 0, 0, 0, 0,  0, 0.6, 0.9, 0, 0, 0, 0, 0, 0, 0,  0, 0, 0, 0, 0, 0, 0, 0, 0, 0],
    [0, 0, 0, 0, 0, 0, 0, 0, 0, 0,  0, 0, 0, 0, 0, 0, 0, 0, 0, 0,  0, 0, 0, 0, 0, 0, 0, 0, 0, 0,  0, 0, 0, 0, 0, 0, 0, 0, 0, 0,  0, 0, 0, 0, 0, 0, 0, 0, 0, 0.4,  1.6, 0.4, 0, 0, 0, 0, 0, 0, 0, 0],
    [0, 0, 0, 0, 0, 0, 0, 0, 0, 0,  0, 0, 0, 0, 0, 0, 0, 0, 0, 0,  0, 0, 0, 0, 0, 0, 0, 0, 0, 0,  0, 0, 0, 0, 0, 0, 0, 0, 0, 0,  0, 0, 0, 0, 0, 0, 0, 0, 0, 0,  0, 0, 0.3, 1.3, 1.3, 0, 0, 0, 0, 0],
    [0, 0, 0, 0, 0, 0, 0, 0, 1.0, 7.0,  3.0, 0, 0, 0, 0, 0, 0, 0, 0, 0,  0, 0, 0, 0, 0, 0, 0, 0, 0, 0,  0, 0, 0, 0, 0, 0, 0, 0, 0, 0,  0, 0, 0, 0, 0, 0, 0, 0, 0, 0,  0, 0, 0, 0, 0, 3.4, 3.7, 0.8, 0, 0],
    [0, 0, 0, 0, 0, 0, 0, 0, 0, 1.0,  5.9, 0, 0, 0, 0, 0, 0, 0, 0, 0,  0, 0, 0, 0, 0, 0, 0, 0, 0, 0,  0, 0, 0, 0, 0, 0, 0, 0, 0, 0,  0, 0, 0, 0, 0, 0, 0, 0, 0, 0,  0, 0, 0, 0, 0, 0, 0, 0, 0, 0],
    [0, 0, 0, 0, 0, 0, 0, 0, 0, 0,  6.6, 3.6, 0, 0, 0, 0, 0, 0, 0, 0,  0, 0, 0, 0, 0, 0, 0, 0, 0, 0,  0, 0, 0, 0, 0, 0, 0, 0, 0, 0,  0, 0, 0, 0, 0, 0, 0, 0, 0, 0,  0, 0, 0, 0, 0, 0, 0, 0, 0, 0],
    [0, 0, 0, 0, 0, 0, 0, 0, 0, 0,  0, 0, 0, 0, 0, 0, 0, 0, 0, 0,  0, 0, 0, 0, 0, 0, 0, 0, 0, 0,  0, 0, 0, 0, 0, 0, 0, 0, 0, 0,  0, 0, 0, 1.0, 2.6, 0.3, 0, 0, 0, 0,  0, 0, 0, 0, 0, 0, 0, 0, 0, 0],
    [0, 0, 0, 0, 0, 0, 0, 0, 3.4, 1.2,  0, 0, 0, 0, 0, 0, 0, 0, 0, 0,  0, 0, 0, 0, 0, 0, 0, 0, 0, 0,  0, 0, 0, 0, 0, 0, 0, 0, 0, 0,  0, 0, 0, 0, 0, 0, 0, 0, 0, 0,  0, 0, 0, 0, 0, 0, 0, 0, 0, 0],
    [0, 0, 0, 0, 0, 0, 0, 0, 0, 0,  2.2, 0.4, 0, 0, 0, 0, 0, 0, 0, 0,  0, 0, 0, 0, 0, 0, 0, 0, 0, 0,  0, 0, 0, 0, 0, 0, 0, 0, 0, 0,  0, 0, 0, 0, 0, 0, 0, 0, 0, 0,  0, 0, 0, 0, 0, 0, 0, 0, 0, 0],
    [0, 0, 0, 0, 0, 0, 0, 0, 0, 0,  0, 0, 0, 0, 0, 0, 0, 0, 0, 0,  0, 0, 0, 0, 0, 0, 0, 0, 0, 0,  0, 0, 0, 0, 0, 0, 0, 0, 0, 0,  0, 0, 0, 0, 0, 0, 0, 0.1, 5.9, 3.4,  0.2, 0, 0, 0, 0, 0, 0, 0, 0, 0],
]

PRECIP_SHIFT = 45   # precip (mm) drawn on the right axis: mm = °C + 45

assert len(member_ids) == len(t850_members) == len(t500_members)
for row in t850_members + t500_members:
    assert len(row) == len(member_hours)
for row in precip_members:
    assert len(row) == len(precip_hours)

# ── Long-form tables for seaborn ───────────────────────
palette = {f'{k + 1:02d}': c for k, c in enumerate(member_colors)}

def long_frame(ids, rows, hours, shift=0.0):
    return pd.DataFrame({
        'hour': np.tile(hours, len(ids)),
        'member': np.repeat(ids, len(hours)),
        'value': np.concatenate([np.asarray(r, float) for r in rows]) - shift,
    })

df850 = long_frame(member_ids, t850_members, member_hours)
df500 = long_frame(member_ids, t500_members, member_hours)
dfrr = long_frame(precip_ids, precip_members, precip_hours, PRECIP_SHIFT)

# ── Figure ─────────────────────────────────────────────
fig = plt.figure(figsize=(7.4, 7.0), dpi=100)
ax = fig.add_axes([50 / 740, 100 / 700, 641 / 740, 600 / 700])
ax.set_xlim(0, 360)
ax.set_ylim(-52.9, 33.1)

# grid: thin every 5, thick every 10, darker zero line
for v in range(-45, 31, 5):
    if v == 0:
        ax.axhline(v, color='#9a9a9a', lw=2.0, zorder=1)
    else:
        ax.axhline(v, color='#c0c0c0', lw=1.8 if v % 10 == 0 else 0.8, zorder=1)
for h in day_hours:
    ax.axvline(h, color='#c0c0c0', lw=0.9, zorder=1)

member_kw = dict(hue='member', palette=palette, legend=False, estimator=None,
                 errorbar=None, lw=0.75, marker='+', markersize=2.5,
                 markeredgewidth=0.6, ax=ax, zorder=2)
sns.lineplot(data=df850, x='hour', y='value', **member_kw)
sns.lineplot(data=df500, x='hour', y='value', **member_kw)
sns.lineplot(data=dfrr, x='hour', y='value', **member_kw)

# control, CEP and ensemble mean
for hrs, vals, col, lw, zo in [
        (hours_6h, t850_ctrl, '#0000ff', 2.2, 3),
        (hours_6h, t500_ctrl, '#0000ff', 2.2, 3),
        (precip_hours, np.array(precip_ctrl) - PRECIP_SHIFT, '#0000ff', 2.2, 3),
        (cep_hours, t850_cep, '#000000', 2.2, 4),
        (cep_hours, t500_cep, '#000000', 2.2, 4),
        (precip_hours[:len(precip_cep)], np.array(precip_cep) - PRECIP_SHIFT, '#000000', 2.2, 4),
        (hours_6h, t850_mean, '#ff0000', 3.6, 5),
        (hours_6h, t500_mean, '#ff0000', 3.6, 5),
        (precip_hours, np.array(precip_mean) - PRECIP_SHIFT, '#ff0000', 3.6, 5)]:
    sns.lineplot(x=hrs, y=vals, color=col, lw=lw, ax=ax, zorder=zo)

ax.set_xlabel('')
ax.set_ylabel('')

# panel titles
for yfrac, txt in [(0.9275, 'Temp. 850hPa'), (0.58, 'Temp. 500hPa'), (0.1475, 'Précipitations')]:
    ax.text(10 / 641, yfrac, txt, transform=ax.transAxes, fontsize=7.2,
            va='center', ha='left', zorder=6)

# axes & ticks
for s in ['top', 'left', 'right']:
    ax.spines[s].set_visible(False)
ax.spines['bottom'].set_color('black')
ax.spines['bottom'].set_linewidth(1.3)

ax.set_xticks(day_hours)
ax.set_xticklabels(day_labels, rotation=90, va='top', ha='center', fontsize=7.2)
ax.tick_params(axis='x', length=0, pad=2)
shift = mtransforms.ScaledTranslation(0.065, 0, fig.dpi_scale_trans)
for lab in ax.get_xticklabels():
    lab.set_transform(lab.get_transform() + shift)

ax.set_yticks(range(-45, 31, 5))
ax.tick_params(axis='y', length=0, pad=21.6, labelsize=7.2)
plt.setp(ax.get_yticklabels(), ha='left')

sec = ax.secondary_yaxis('right', functions=(lambda v: v + PRECIP_SHIFT,
                                             lambda v: v - PRECIP_SHIFT))
sec.set_yticks(range(0, 76, 5))
sec.tick_params(length=0, pad=13, labelsize=7.2)
sec.spines['right'].set_visible(False)

# ── Footer: legend, member colours, captions ───────────
fa = fig.add_axes([0, 0, 1, 1])
fa.set_xlim(0, 740)
fa.set_ylim(700, 0)
fa.axis('off')

fs = 7.15
fa.text(20, 607, '(°C)', fontsize=fs, va='center')
fa.text(710, 607, '(mm)', fontsize=fs, va='center')

fa.plot([35, 65], [637, 637], color='#ff0000', lw=3.6, solid_capstyle='butt')
fa.text(75, 637, 'Moyenne des scénarios', fontsize=fs, va='center')
fa.plot([225, 255], [637, 637], color='#0000ff', lw=2.6, solid_capstyle='butt')
fa.text(265, 637, 'Run de contrôle', fontsize=fs, va='center')
fa.plot([225, 255], [647, 647], color='#000000', lw=2.6, solid_capstyle='butt')
fa.text(265, 647, 'Run CEP/ECMWF', fontsize=fs, va='center')
fa.text(370, 652, '50 Perts.', fontsize=fs, va='center')

pitch = 10.95
for k, c in enumerate(member_colors):
    col, row = k % 25, k // 25
    x0 = 430 + col * pitch
    fa.add_patch(Rectangle((x0, 645 + row * 6.2), 9.6, 6.2, color=c, lw=0))
    fa.text(x0 + 4.8, 639.5 if row == 0 else 662.5, f'{k + 1:02d}',
            fontsize=4.7, ha='center', va='center')

fa.add_patch(Rectangle((20, 667), 420, 32, fill=False, ec='black', lw=1.0))
fa.text(450, 675.5, 'Ensemble ECMWF/CEP du 10/07/2024 - 00Z', fontsize=fs, va='center')
fa.text(30, 677, 'Diagramme ensembles ECMWF/CEP 0.25° sur 360h pour Argeles-sur-Mer',
        fontsize=8.0, weight='bold', va='center')
fa.text(30, 691.5, 'Températures 850hPa et 500hPa (°C) , précipitations (mm)',
        fontsize=fs, va='center')
fa.text(450, 691.5, 'Copyright 2024 Meteociel.fr - ECMWF', fontsize=8.3,
        weight='bold', va='center')

fig.savefig('out.png', dpi=100)
